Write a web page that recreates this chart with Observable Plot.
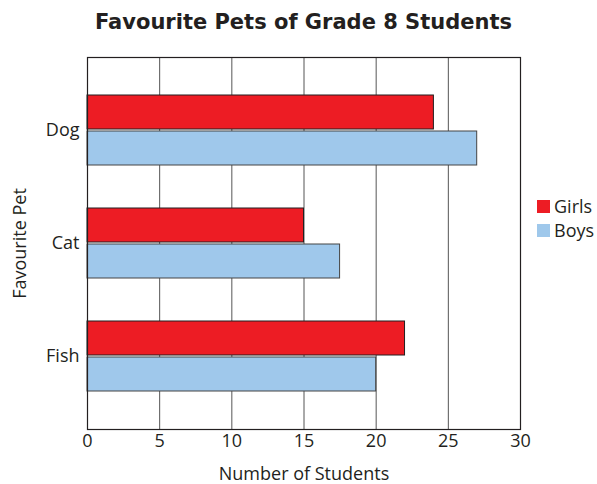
<!DOCTYPE html>
<html>
<head>
<meta charset="utf-8">
<script src="https://cdn.jsdelivr.net/npm/d3@7"></script>
<script src="https://cdn.jsdelivr.net/npm/@observablehq/plot@0.6"></script>
<style>
  body { margin: 0; background: #fff; font-family: "Open Sans", "Noto Sans", sans-serif; }
  #wrap { position: relative; width: 597px; height: 484px; }
  #title { position: absolute; left: 0; top: 0; width: 607px; height: 40px; text-align: center;
    font-family: "DejaVu Sans", sans-serif; font-weight: bold; font-size: 21px; line-height: 45px; color: #231f20; }
  #chart { position: absolute; left: 0; top: 40px; }
  #legend { position: absolute; left: 537px; top: 194px; font-size: 18px; color: #231f20; }
  .li { display: flex; align-items: center; height: 24px; }
  .sw { width: 13px; height: 13px; margin-right: 4px; }
</style>
</head>
<body>
<div id="wrap">
  <div id="title">Favourite Pets of Grade 8 Students</div>
  <div id="chart"></div>
  <div id="legend"></div>
</div>
<script>
const pets = ["Dog", "Cat", "Fish"];
const girls = [24, 15, 22];
const boys = [27, 17.5, 20];
const seriesNames = ["Girls", "Boys"];
const colors = ["#ed1c24", "#9fc8eb"];
const xTicks = [0, 5, 10, 15, 20, 25, 30];

const girlsData = pets.map((p, i) => ({pet: p, value: girls[i]}));
const boysData = pets.map((p, i) => ({pet: p, value: boys[i]}));

const chart = Plot.plot({
  width: 597,
  height: 444,
  marginTop: 17,
  marginBottom: 55,
  marginLeft: 87,
  marginRight: 77,
  style: {fontFamily: "'Open Sans', 'Noto Sans', sans-serif", fontSize: "18px", color: "#231f20", background: "white"},
  x: {domain: [0, 30]},
  y: {domain: pets, paddingInner: 0.38, paddingOuter: 0.336},
  marks: [
    Plot.gridX(xTicks, {stroke: "#555", strokeOpacity: 1, strokeWidth: 1}),
    Plot.barX(girlsData, {x: "value", y: "pet", fill: colors[0], stroke: "#231f20", strokeWidth: 1, insetBottom: 36}),
    Plot.barX(boysData, {x: "value", y: "pet", fill: colors[1], stroke: "#444", strokeWidth: 1, insetTop: 36}),
    Plot.frame({stroke: "#231f20", strokeWidth: 1.2}),
    Plot.axisX({ticks: xTicks, tickSize: 0, tickPadding: 5, fontSize: 18, label: "Number of Students", labelAnchor: "center", labelOffset: 50, labelArrow: "none"}),
    Plot.axisY({tickSize: 0, tickPadding: 8, fontSize: 18, label: "Favourite Pet", labelAnchor: "center", labelOffset: 74, labelArrow: "none"})
  ]
});
document.getElementById("chart").appendChild(chart);

const legend = document.getElementById("legend");
seriesNames.forEach((n, i) => {
  const row = document.createElement("div");
  row.className = "li";
  row.innerHTML = `<div class="sw" style="background:${colors[i]}"></div><span>${n}</span>`;
  legend.appendChild(row);
});
</script>
</body>
</html>
